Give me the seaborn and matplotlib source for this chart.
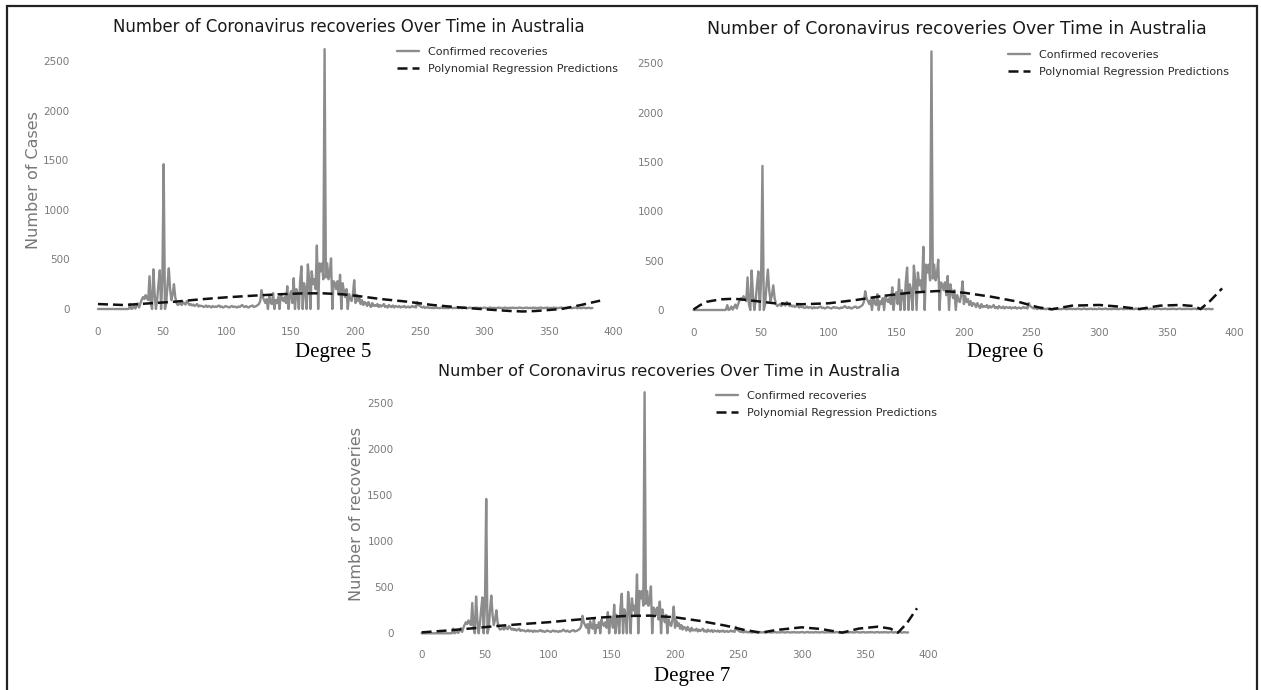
import numpy as np
import pandas as pd
import matplotlib
matplotlib.use("Agg")
import matplotlib.pyplot as plt
import seaborn as sns
from matplotlib.patches import Rectangle

# ---------------- data ----------------
# daily confirmed recoveries, day 0 .. 384
rec_days_0_34 = [0, 0, 0, 0, 0, 0, 0, 0, 0, 0,
                 0, 0, 0, 0, 0, 0, 0, 0, 0, 0,
                 0, 0, 0, 0, 2, 50, 0, 8, 35, 4,
                 30, 55, 15, 60, 95]
rec_days_35_62 = [120, 100, 140, 110, 90, 330, 60, 0, 400, 150,
                  0, 100, 260, 390, 0, 300, 1460, 0, 60, 250,
                  410, 200, 90, 150, 250, 120, 60, 40]
rec_days_63_125 = [50, 60, 40, 70, 55, 45, 80, 60, 40, 50, 35, 45, 30, 40, 50, 25, 35, 30,
                   30, 20, 25, 35, 20, 30, 25, 15, 30, 20, 25, 20, 30, 35, 20, 25, 15, 20,
                   30, 25, 20, 15, 25, 30, 20, 25, 20, 15, 25, 20, 30, 40, 25, 20, 30, 20,
                   15, 25, 30, 35, 20, 25, 30, 40, 50]
rec_days_126_145 = [80, 190, 120, 90, 60, 100, 0, 130, 70, 50,
                    160, 0, 90, 60, 120, 0, 150, 100, 80, 120]
rec_days_146_215 = [60, 230, 0, 140, 180, 60, 310, 0, 200, 150,
                    0, 280, 430, 0, 260, 200, 0, 450, 300, 0,
                    380, 250, 300, 200, 640, 0, 460, 380, 460, 300,
                    2620, 320, 460, 300, 350, 510, 0, 280, 260, 200,
                    280, 150, 345, 0, 260, 180, 120, 200, 0, 150,
                    100, 80, 150, 290, 60, 140, 80, 110, 50, 90,
                    40, 70, 60, 30, 70, 40, 20, 60, 30, 40]
rec_days_216_250 = [30, 50, 20, 40, 25, 35, 50, 20, 30, 15,
                    40, 25, 20, 35, 15, 30, 25, 20, 30, 15,
                    25, 20, 30, 15, 20, 25, 15, 20, 30, 20,
                    25, 15, 70, 40, 30]
rec_days_251_384 = [20, 15, 25, 10, 15, 20, 10, 15, 10, 12,
                    8, 15, 10, 12, 8, 10, 15, 8, 12, 10,
                    10, 8, 12, 15, 10, 8, 12, 10, 15, 8,
                    12, 10, 8, 15, 12, 10, 8, 12, 15, 10,
                    8, 12, 10, 15, 8, 10, 12, 8, 10, 15,
                    12, 8, 10, 12, 15, 8, 10, 12, 8, 10,
                    15, 10, 12, 8, 10, 15, 12, 8, 10, 12,
                    10, 15, 8, 12, 10, 8, 15, 12, 10, 8,
                    12, 10, 15, 8, 10, 12, 8, 15, 10, 12,
                    8, 10, 12, 15, 10, 8, 12, 10, 15, 8,
                    10, 12, 8, 15, 10, 12, 8, 10, 12, 15,
                    8, 10, 12, 8, 15, 10, 12, 8, 10, 12,
                    15, 8, 10, 12, 8, 10, 15, 12, 8, 10,
                    12, 10, 8, 10]

recoveries = (rec_days_0_34 + rec_days_35_62 + rec_days_63_125 + rec_days_126_145
              + rec_days_146_215 + rec_days_216_250 + rec_days_251_384)

# polynomial regression predictions (sampled from the dashed curves)
deg5_days = [0, 20, 40, 60, 80, 100, 120, 140, 160, 175, 190, 200, 220, 240, 260,
             280, 300, 320, 330, 340, 360, 375, 390]
deg5_vals = [50, 40, 57, 74, 98, 118, 134, 148, 158, 158, 148, 134, 100, 74, 40,
             17, -3, -20, -25, -20, 0, 40, 84]

deg6_days = [0, 5, 10, 20, 30, 40, 50, 60, 80, 100, 120, 140, 160, 180, 190, 200,
             220, 240, 255, 265, 280, 300, 315, 330, 345, 360, 370, 375, 382, 391]
deg6_vals = [5, 50, 84, 108, 114, 101, 84, 68, 58, 68, 101, 142, 175, 192, 187, 175,
             135, 84, 27, 7, 44, 51, 34, 10, 44, 51, 40, 10, 90, 219]

deg7_days = [0, 20, 40, 60, 80, 100, 120, 140, 160, 180, 200, 220, 240, 255, 268,
             280, 300, 315, 332, 345, 360, 370, 376, 383, 391]
deg7_vals = [10, 30, 54, 80, 101, 120, 145, 170, 188, 192, 174, 134, 83, 36, 7,
             36, 65, 47, 7, 51, 72, 51, 7, 109, 272]

title_text = "Number of Coronavirus recoveries Over Time in Australia"
x_ticks = [0, 50, 100, 150, 200, 250, 300, 350, 400]
y_ticks = [0, 500, 1000, 1500, 2000, 2500]
captions = ["Degree 5", "Degree 6", "Degree 7"]
ylabels = ["Number of Cases", "", "Number of recoveries"]

# ---------------- style ----------------
sns.set_theme(style="white")
plt.rcParams['font.family'] = ['DejaVu Sans']

W, H = 1261, 690
fig = plt.figure(figsize=(W / 100, H / 100), dpi=100)

XLIM = (-20, 410)
YLIM = (-150, 2750)

panels = [
    dict(x0=98, ppd=1.2875, y0=309, ppc=0.0992, title_fs=11.9, ylab_x=41,
         leg=(397, 47), cap=(333, 352), pdays=deg5_days, pvals=deg5_vals),
    dict(x0=693.5, ppd=1.352, y0=310, ppc=0.0987, title_fs=12.5, ylab_x=None,
         leg=(1008, 50), cap=(1005, 353), pdays=deg6_days, pvals=deg6_vals),
    dict(x0=421.6, ppd=1.267, y0=633.3, ppc=0.092, title_fs=11.6, ylab_x=364,
         leg=(716, 391), cap=(692, 677), pdays=deg7_days, pvals=deg7_vals),
]

days = np.arange(len(recoveries))
df_rec = pd.DataFrame({"day": days, "rec": recoveries})

for i, p in enumerate(panels):
    left = p["x0"] + XLIM[0] * p["ppd"]
    width = (XLIM[1] - XLIM[0]) * p["ppd"]
    top = p["y0"] - YLIM[1] * p["ppc"]
    height = (YLIM[1] - YLIM[0]) * p["ppc"]
    ax = fig.add_axes([left / W, 1 - (top + height) / H, width / W, height / H])

    sns.lineplot(data=df_rec, x="day", y="rec", ax=ax, color="#8c8c8c", lw=1.7,
                 label="Confirmed recoveries")
    df_p = pd.DataFrame({"day": p["pdays"], "val": p["pvals"]})
    sns.lineplot(data=df_p, x="day", y="val", ax=ax, color="#111111", lw=1.8,
                 label="Polynomial Regression Predictions")
    ax.lines[1].set_dashes((4, 2))

    ax.set_xlim(*XLIM)
    ax.set_ylim(*YLIM)
    ax.set_xticks(x_ticks)
    ax.set_yticks(y_ticks)
    ax.tick_params(labelsize=7.5, labelcolor="#7a7a7a", length=0, pad=2)
    sns.despine(ax=ax, left=True, bottom=True)
    ax.set_xlabel("")
    ax.set_title(title_text, fontsize=p["title_fs"], color="#1a1a1a", pad=3)
    if ylabels[i]:
        ax.set_ylabel(ylabels[i], fontsize=11.5, color="#777777")
        ax.yaxis.set_label_coords((p["ylab_x"] - left) / width, 0.5)
    else:
        ax.set_ylabel("")

    leg = ax.legend(loc="upper left",
                    bbox_to_anchor=(p["leg"][0] / W, 1 - p["leg"][1] / H),
                    bbox_transform=fig.transFigure, frameon=False, fontsize=8,
                    borderpad=0, borderaxespad=0, handlelength=2.0,
                    handletextpad=0.8, labelspacing=0.6)
    for t in leg.get_texts():
        t.set_color("#2a2a2a")

    fig.text(p["cap"][0] / W, 1 - p["cap"][1] / H, captions[i],
             family="Liberation Serif", fontsize=15, ha="center", va="center",
             color="black")

# outer frame of the composite figure
fig.patches.append(Rectangle((6.5 / W, -0.05), (1256.5 - 6.5) / W, 1.05 - 6.5 / H,
                             transform=fig.transFigure, fill=False,
                             edgecolor="#222222", lw=1.6))

fig.savefig("out.png", dpi=100)
